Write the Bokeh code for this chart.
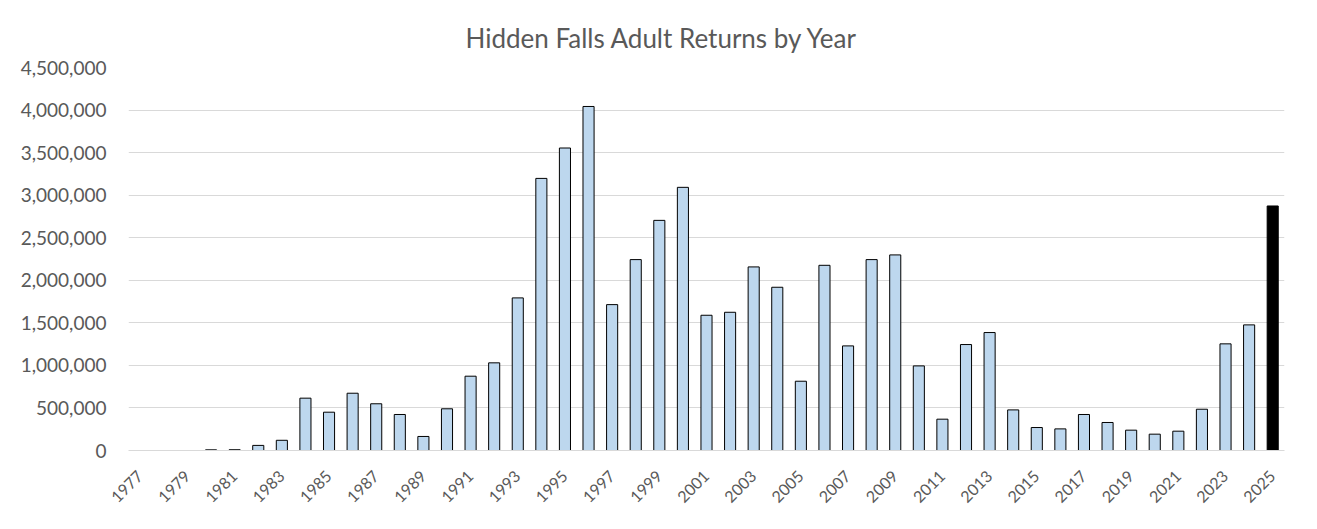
from bokeh.plotting import figure
from bokeh.models import ColumnDataSource, Range1d, FixedTicker, NumeralTickFormatter
from bokeh.embed import file_html
from bokeh.resources import INLINE

# ---- data ----
years = list(range(1977, 2026))
returns = [
    0, 0, 0, 8000, 9000, 60000, 120000, 615000, 450000, 673000,
    549000, 423000, 165000, 490000, 873000, 1030000, 1793000, 3197000, 3554000, 4042000,
    1714000, 2243000, 2704000, 3092000, 1589000, 1624000, 2157000, 1918000, 814000, 2176000,
    1229000, 2243000, 2298000, 994000, 368000, 1245000, 1386000, 477000, 270000, 254000,
    423000, 329000, 239000, 192000, 227000, 485000, 1253000, 1476000, 2873000,
]
highlight_year = 2025
tick_years = list(range(1977, 2026, 2))
y_ticks = [0, 500000, 1000000, 1500000, 2000000, 2500000, 3000000, 3500000, 4000000, 4500000]
title_text = "Hidden Falls Adult Returns by Year"

FONT = "Lato"
TEXT_COLOR = "#595959"
GRID_COLOR = "#D9D9D9"

fills = ["#000000" if y == highlight_year else "#BDD7EE" for y in years]
src = ColumnDataSource(dict(year=years, value=returns, fill=fills))

p = figure(
    width=1301, height=513,
    x_range=Range1d(years[0] - 0.5, years[-1] + 0.5),
    y_range=Range1d(0, y_ticks[-1]),
    output_backend="svg", toolbar_location=None,
    min_border_left=128, min_border_right=17, min_border_top=67, min_border_bottom=63,
    title=title_text,
)
p.title.align = "left"
p.title.offset = 337
p.title.text_font = FONT
p.title.text_font_size = "26px"
p.title.text_font_style = "normal"
p.title.text_color = TEXT_COLOR
p.title.standoff = 28

p.vbar(x="year", top="value", width=0.47, source=src,
       fill_color="fill", line_color="#000000", line_width=1)

p.outline_line_color = None
p.background_fill_color = "white"
p.border_fill_color = "white"

p.xgrid.grid_line_color = None
p.ygrid.grid_line_color = GRID_COLOR
p.ygrid.grid_line_width = 1

p.yaxis.ticker = FixedTicker(ticks=y_ticks)
p.yaxis.formatter = NumeralTickFormatter(format="0,0")
p.yaxis.axis_line_color = None
p.yaxis.major_tick_line_color = None
p.yaxis.minor_tick_line_color = None
p.yaxis.major_tick_out = 0
p.yaxis.major_tick_in = 0
p.yaxis.major_label_standoff = 22
p.yaxis.major_label_text_font = FONT
p.yaxis.major_label_text_font_size = "19px"
p.yaxis.major_label_text_color = TEXT_COLOR

p.xaxis.ticker = FixedTicker(ticks=tick_years)
p.xaxis.axis_line_color = GRID_COLOR
p.xaxis.major_tick_line_color = None
p.xaxis.minor_tick_line_color = None
p.xaxis.major_tick_out = 0
p.xaxis.major_tick_in = 0
p.xaxis.major_label_orientation = 0.785398
p.xaxis.major_label_standoff = 23
p.xaxis.major_label_text_font = FONT
p.xaxis.major_label_text_font_size = "16px"
p.xaxis.major_label_text_color = TEXT_COLOR

open("out.html", "w").write(file_html(p, INLINE))
